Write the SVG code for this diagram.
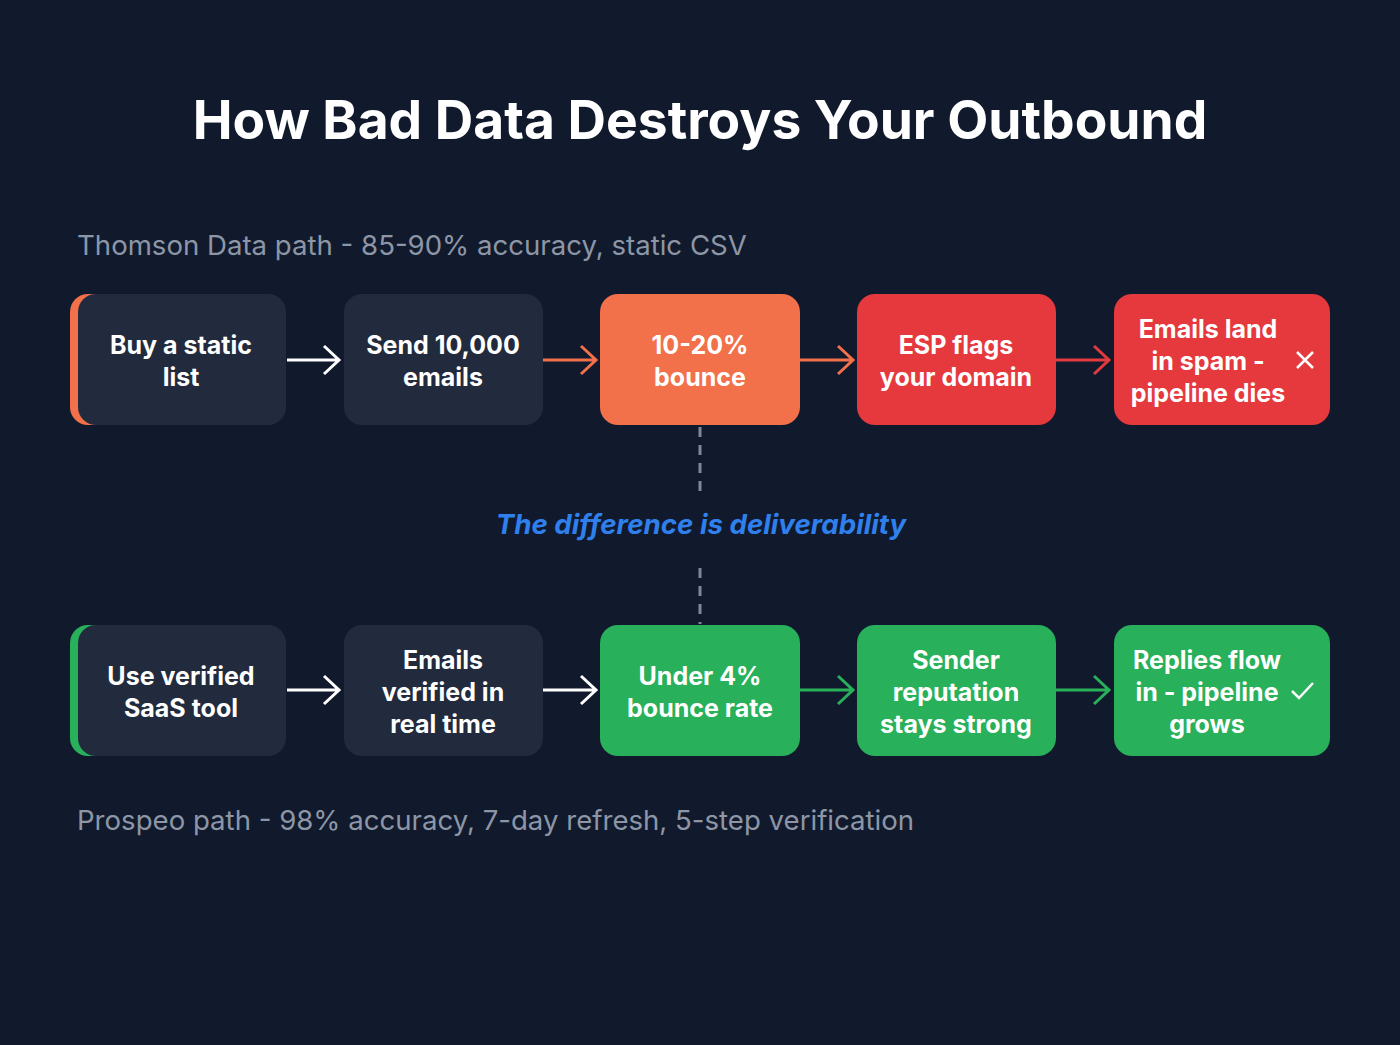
<svg xmlns="http://www.w3.org/2000/svg" width="1400" height="1045" viewBox="0 0 1400 1045">
<defs>
<style>
.bg{fill:#111a2c}
.title{font-family:Inter,"Liberation Sans",sans-serif;font-weight:700;font-size:53.3px;fill:#ffffff}
.sub{font-family:Inter,"Liberation Sans",sans-serif;font-weight:400;font-size:27.6px;fill:#8d96a6}
.mid{font-family:Inter,"Liberation Sans",sans-serif;font-weight:700;font-style:italic;font-size:27.7px;fill:#2f80ed}
.nt{font-family:Inter,"Liberation Sans",sans-serif;font-weight:700;font-size:25px;fill:#ffffff;text-anchor:middle}
.dark{fill:#222b3d}
.orange{fill:#f2704a}
.red{fill:#e5393e}
.green{fill:#28b05b}
.conn{fill:none;stroke-width:3}
.w{stroke:#ffffff}
.o{stroke:#f2704a}
.r{stroke:#e5393e}
.g{stroke:#28b05b}
.dash{stroke:#7f8896;stroke-width:3;stroke-dasharray:10 8;fill:none}
</style>
</defs>
<rect class="bg" x="0" y="0" width="1400" height="1045"/>
<text class="title" x="700" y="139" text-anchor="middle">How Bad Data Destroys Your Outbound</text>
<text class="sub" x="77" y="255">Thomson Data path - 85-90% accuracy, static CSV</text>
<text class="sub" x="77" y="830">Prospeo path - 98% accuracy, 7-day refresh, 5-step verification</text>

<g id="connectors">
<path class="conn w" d="M287 360 H338 M324 346 L339 360 L324 374"/>
<path class="conn o" d="M543 360 H595 M581 346 L596 360 L581 374"/>
<path class="conn o" d="M800 360 H852 M838 346 L853 360 L838 374"/>
<path class="conn r" d="M1056 360 H1108 M1094 346 L1109 360 L1094 374"/>
<path class="conn w" d="M287 690 H338 M324 676 L339 690 L324 704"/>
<path class="conn w" d="M543 690 H595 M581 676 L596 690 L581 704"/>
<path class="conn g" d="M800 690 H852 M838 676 L853 690 L838 704"/>
<path class="conn g" d="M1056 690 H1108 M1094 676 L1109 690 L1094 704"/>
<path class="dash" d="M700 427 V497"/>
<path class="dash" d="M700 568 V624"/>
</g>
<text class="mid" x="701" y="534" text-anchor="middle">The difference is deliverability</text>

<g id="n1">
<rect class="orange" x="70" y="294" width="60" height="131" rx="18"/>
<rect class="dark" x="78" y="294" width="208" height="131" rx="18"/>
<text class="nt" x="181" y="354">Buy a static</text>
<text class="nt" x="181" y="386">list</text>
</g>
<g id="n2">
<rect class="dark" x="344" y="294" width="199" height="131" rx="18"/>
<text class="nt" x="443" y="354">Send 10,000</text>
<text class="nt" x="443" y="386">emails</text>
</g>
<g id="n3">
<rect class="orange" x="600" y="294" width="200" height="131" rx="18"/>
<text class="nt" x="700" y="354">10-20%</text>
<text class="nt" x="700" y="386">bounce</text>
</g>
<g id="n4">
<rect class="red" x="857" y="294" width="199" height="131" rx="18"/>
<text class="nt" x="956" y="354">ESP flags</text>
<text class="nt" x="956" y="386">your domain</text>
</g>
<g id="n5">
<rect class="red" x="1114" y="294" width="216" height="131" rx="18"/>
<text class="nt" x="1208" y="338">Emails land</text>
<text class="nt" x="1208" y="370">in spam -</text>
<text class="nt" x="1208" y="402">pipeline dies</text>
<path d="M1297 352 L1313 368 M1313 352 L1297 368" stroke="#ffffff" stroke-width="2.5" fill="none"/>
</g>

<g id="n6">
<rect class="green" x="70" y="625" width="60" height="131" rx="18"/>
<rect class="dark" x="78" y="625" width="208" height="131" rx="18"/>
<text class="nt" x="181" y="685">Use verified</text>
<text class="nt" x="181" y="717">SaaS tool</text>
</g>
<g id="n7">
<rect class="dark" x="344" y="625" width="199" height="131" rx="18"/>
<text class="nt" x="443" y="669">Emails</text>
<text class="nt" x="443" y="701">verified in</text>
<text class="nt" x="443" y="733">real time</text>
</g>
<g id="n8">
<rect class="green" x="600" y="625" width="200" height="131" rx="18"/>
<text class="nt" x="700" y="685">Under 4%</text>
<text class="nt" x="700" y="717">bounce rate</text>
</g>
<g id="n9">
<rect class="green" x="857" y="625" width="199" height="131" rx="18"/>
<text class="nt" x="956" y="669">Sender</text>
<text class="nt" x="956" y="701">reputation</text>
<text class="nt" x="956" y="733">stays strong</text>
</g>
<g id="n10">
<rect class="green" x="1114" y="625" width="216" height="131" rx="18"/>
<text class="nt" x="1207" y="669">Replies flow</text>
<text class="nt" x="1207" y="701">in - pipeline</text>
<text class="nt" x="1207" y="733">grows</text>
<path d="M1292 691 L1299 698 L1313 683" stroke="#ffffff" stroke-width="2.5" fill="none"/>
</g>
</svg>
